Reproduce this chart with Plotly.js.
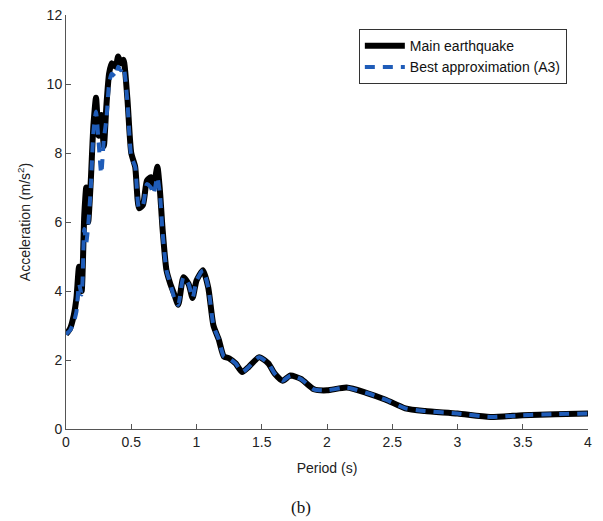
<!DOCTYPE html>
<html>
<head>
<meta charset="utf-8">
<script src="https://cdn.plot.ly/plotly-3.0.1.min.js"></script>
<style>html,body{margin:0;padding:0;background:#fff;}#chart{width:603px;height:521px;}</style>
</head>
<body>
<div id="chart"></div>
<script>
var periodMain = [0, 0.03, 0.06, 0.08, 0.1, 0.12, 0.14, 0.155, 0.17, 0.19, 0.21, 0.23, 0.25, 0.27, 0.29, 0.31, 0.33, 0.35, 0.38, 0.4, 0.42, 0.44, 0.47, 0.5, 0.53, 0.56, 0.59, 0.62, 0.65, 0.67, 0.7, 0.72, 0.74, 0.77, 0.8, 0.83, 0.86, 0.9, 0.94, 0.97, 1.0, 1.05, 1.09, 1.13, 1.17, 1.21, 1.25, 1.3, 1.35, 1.4, 1.48, 1.55, 1.6, 1.66, 1.72, 1.8, 1.9, 2.0, 2.15, 2.3, 2.45, 2.6, 2.75, 3.0, 3.25, 3.5, 3.75, 4.0];
var accelMain  = [2.75, 2.9, 3.3, 3.8, 4.7, 4.0, 6.2, 7.0, 6.0, 7.2, 8.8, 9.6, 8.5, 9.1, 8.2, 9.4, 10.3, 10.6, 10.5, 10.8, 10.6, 10.7, 9.6, 8.0, 7.6, 6.4, 6.5, 7.2, 7.3, 7.0, 7.6, 6.9, 5.8, 4.6, 4.2, 3.9, 3.6, 4.4, 4.2, 3.8, 4.3, 4.6, 4.1, 3.0, 2.6, 2.1, 2.05, 1.9, 1.65, 1.8, 2.08, 1.9, 1.6, 1.4, 1.55, 1.45, 1.15, 1.12, 1.2, 1.05, 0.85, 0.6, 0.52, 0.45, 0.35, 0.4, 0.43, 0.45];
var periodBest = [0, 0.03, 0.06, 0.08, 0.1, 0.12, 0.14, 0.155, 0.17, 0.19, 0.21, 0.23, 0.25, 0.27, 0.29, 0.31, 0.33, 0.35, 0.38, 0.4, 0.42, 0.44, 0.47, 0.5, 0.53, 0.56, 0.59, 0.62, 0.65, 0.67, 0.7, 0.72, 0.74, 0.77, 0.8, 0.83, 0.86, 0.9, 0.94, 0.97, 1.0, 1.05, 1.09, 1.13, 1.17, 1.21, 1.25, 1.3, 1.35, 1.4, 1.48, 1.55, 1.6, 1.66, 1.72, 1.8, 1.9, 2.0, 2.15, 2.3, 2.45, 2.6, 2.75, 3.0, 3.25, 3.5, 3.75, 4.0];
var accelBest  = [2.75, 2.85, 3.1, 3.4, 4.2, 3.9, 5.8, 5.4, 5.9, 7.0, 8.6, 9.2, 8.3, 7.4, 8.4, 9.0, 10.0, 10.3, 10.2, 10.5, 10.4, 10.5, 9.5, 7.9, 7.6, 6.4, 6.5, 7.1, 7.0, 6.8, 7.3, 6.8, 5.7, 4.6, 4.2, 3.8, 3.6, 4.4, 4.2, 3.8, 4.3, 4.6, 4.1, 3.0, 2.6, 2.1, 2.05, 1.9, 1.65, 1.8, 2.08, 1.9, 1.6, 1.4, 1.55, 1.45, 1.15, 1.12, 1.2, 1.05, 0.85, 0.6, 0.52, 0.45, 0.35, 0.4, 0.43, 0.45];
var xTicks = [0, 0.5, 1, 1.5, 2, 2.5, 3, 3.5, 4];
var xTickText = ["0", "0.5", "1", "1.5", "2", "2.5", "3", "3.5", "4"];
var yTicks = [0, 2, 4, 6, 8, 10, 12];

var traces = [
  {x: periodMain, y: accelMain, mode: 'lines', name: 'Main earthquake',
   line: {color: '#000000', width: 6, shape: 'spline', smoothing: 0.6}},
  {x: periodBest, y: accelBest, mode: 'lines', name: 'Best approximation (A3)',
   line: {color: '#1f5cb8', width: 4, dash: '10px,8px', shape: 'spline', smoothing: 0.6}}
];

var axisFont = {family: 'Liberation Sans, Arial, sans-serif', size: 14, color: '#222'};
var layout = {
  width: 603, height: 521,
  margin: {l: 66, r: 15, t: 15, b: 92},
  paper_bgcolor: '#fff', plot_bgcolor: '#fff',
  showlegend: true,
  legend: {x: 0.561, y: 0.966, xanchor: 'left', yanchor: 'top',
    bordercolor: '#333', borderwidth: 1, bgcolor: '#fff',
    font: {family: 'Liberation Sans, Arial, sans-serif', size: 14, color: '#111'},
    tracegroupgap: 0, itemwidth: 40},
  xaxis: {range: [0, 4], tickvals: xTicks, ticktext: xTickText,
    showline: true, linecolor: '#555', linewidth: 1, ticks: 'inside', ticklen: 5, tickcolor: '#555',
    showgrid: false, zeroline: false, tickfont: axisFont,
    title: {text: 'Period (s)', font: axisFont, standoff: 14}},
  yaxis: {range: [0, 12], tickvals: yTicks,
    showline: true, linecolor: '#555', linewidth: 1, ticks: 'inside', ticklen: 5, tickcolor: '#555',
    showgrid: false, zeroline: false, tickfont: axisFont,
    title: {text: 'Acceleration (m/s<sup>2</sup>)', font: axisFont, standoff: 12}},
  annotations: [{text: '(b)', xref: 'paper', yref: 'paper', x: 0.45, y: -0.19,
    xanchor: 'center', yanchor: 'middle', showarrow: false,
    font: {family: 'Liberation Serif, Times New Roman, serif', size: 17, color: '#111'}}]
};

Plotly.newPlot('chart', traces, layout, {displayModeBar: false, staticPlot: true});
</script>
</body>
</html>
